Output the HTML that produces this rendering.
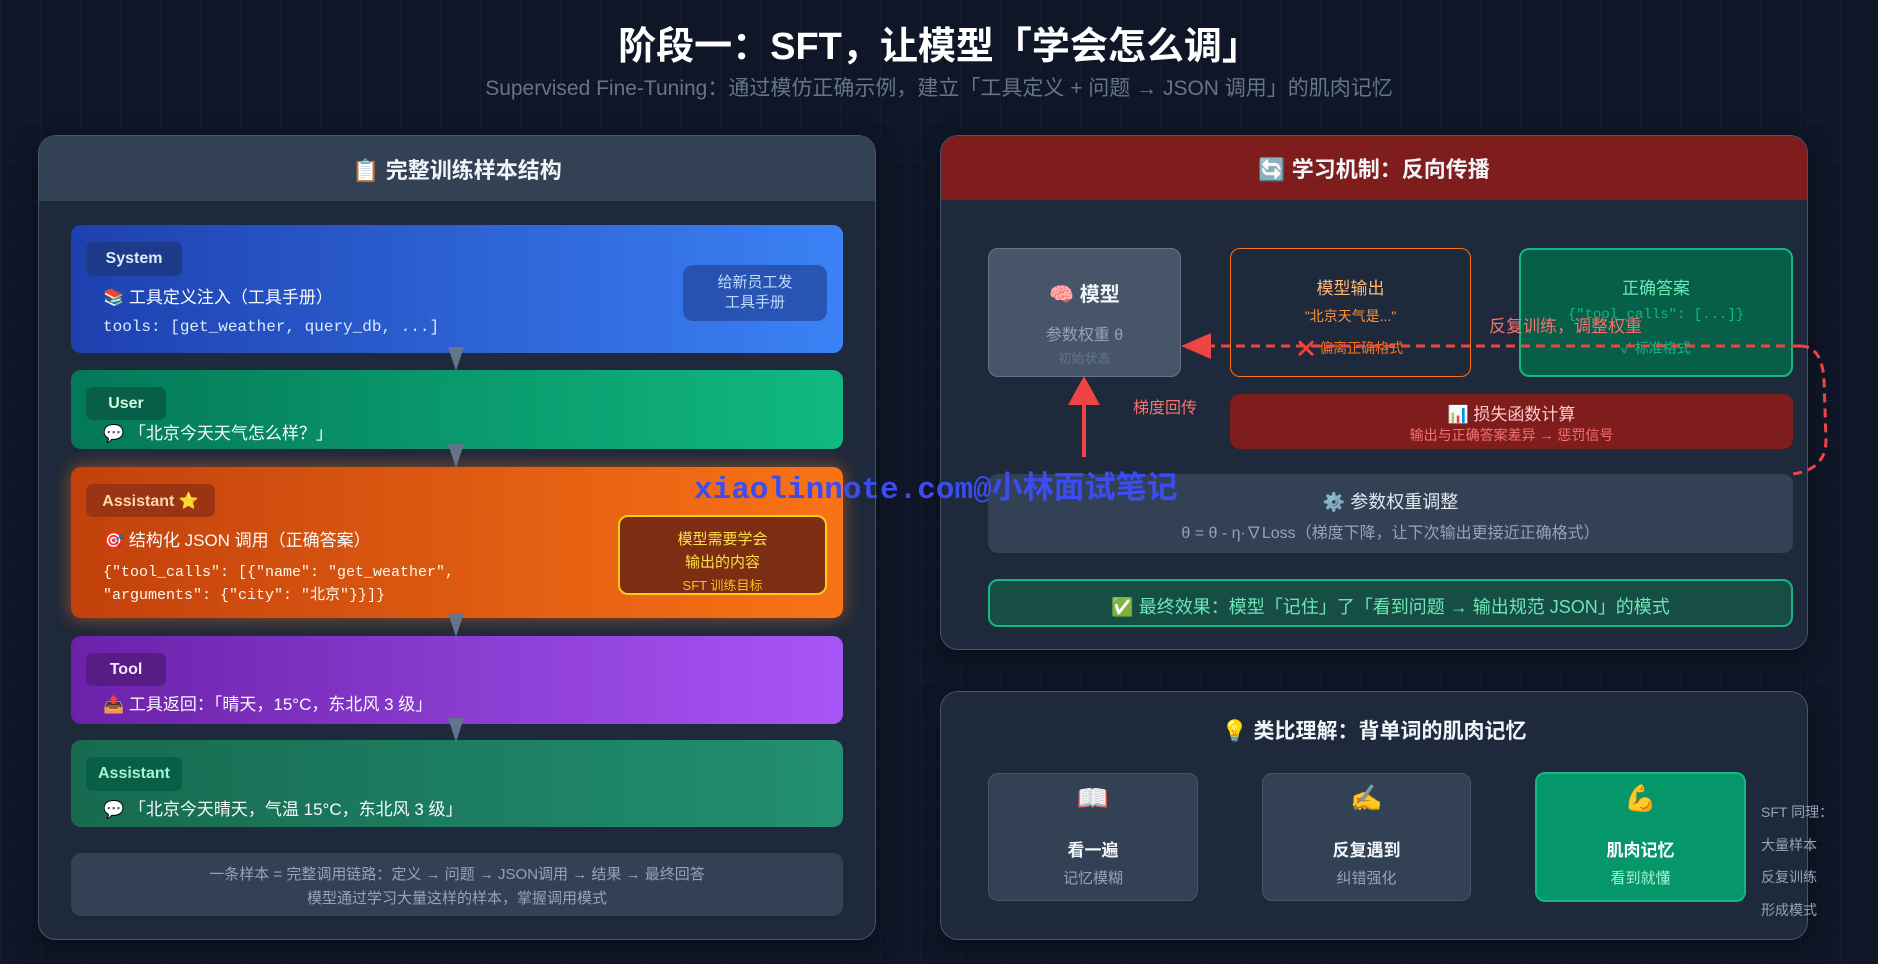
<!DOCTYPE html>
<html><head><meta charset="utf-8"><style>
*{margin:0;padding:0;box-sizing:border-box}
body{width:1878px;height:964px;overflow:hidden;position:relative;font-family:"Liberation Sans","Noto Sans CJK SC",sans-serif;
background-color:#0f1627;background-image:linear-gradient(rgba(255,255,255,0.025) 1px,transparent 1px),linear-gradient(90deg,rgba(255,255,255,0.025) 1px,transparent 1px);background-size:40px 40px}
.a{position:absolute}
.c{text-align:center}
.mono{font-family:"Liberation Mono","Noto Sans CJK SC",monospace}
.panel{position:absolute;background:#1e293b;border:1.5px solid #475569;border-radius:18px;overflow:hidden;box-shadow:0 8px 24px rgba(0,0,0,.4)}
.hdr{position:absolute;left:0;right:0;top:0;height:64px;display:flex;align-items:center;justify-content:center;font-size:22px;font-weight:bold;color:#f1f5f9}
.blk{position:absolute;left:71px;width:772px;border-radius:10px}
.badge{position:absolute;border-radius:7px;font-size:16px;font-weight:bold;display:flex;align-items:center;justify-content:center}
.line{position:absolute;font-size:17px;color:#f8fafc;white-space:nowrap}
.tri{position:absolute;width:0;height:0;border-left:8px solid transparent;border-right:8px solid transparent;border-top:24px solid #64748b}
.box{position:absolute;border-radius:10px}
.t{position:absolute;left:0;right:0;text-align:center;white-space:nowrap}
</style></head><body>

<div class="a c" style="left:0;width:1878px;top:15px;font-size:38px;font-weight:bold;color:#fff">阶段一：SFT，让模型「学会怎么调」</div>
<div class="a c" style="left:0;width:1878px;top:72px;font-size:21px;color:#64748b">Supervised Fine-Tuning：通过模仿正确示例，建立「工具定义 + 问题 → JSON 调用」的肌肉记忆</div>

<!-- Left panel -->
<div class="panel" style="left:38px;top:135px;width:838px;height:805px">
  <div class="hdr" style="background:#334155;height:65px">📋 完整训练样本结构</div>
</div>

<div class="blk" style="top:225px;height:128px;background:linear-gradient(90deg,#1e40af,#3b82f6)"></div>
<div class="badge" style="left:86px;top:242px;width:96px;height:34px;background:#1e3a8a;color:#dbeafe">System</div>
<div class="line" style="left:103px;top:283px">📚 工具定义注入（工具手册）</div>
<div class="line mono" style="left:103px;top:318px;font-size:16px;color:#dbeafe">tools: [get_weather, query_db, ...]</div>
<div class="box" style="left:683px;top:265px;width:144px;height:56px;background:rgba(30,58,138,0.6)"></div>
<div class="a c" style="left:683px;top:273px;width:144px;font-size:15px;line-height:20px;color:#bfdbfe">给新员工发<br>工具手册</div>

<div class="blk" style="top:370px;height:79px;background:linear-gradient(90deg,#047857,#10b981)"></div>
<div class="badge" style="left:86px;top:387px;width:80px;height:33px;background:#065f46;color:#d1fae5">User</div>
<div class="line" style="left:103px;top:419px">💬 「北京今天天气怎么样？」</div>

<div class="blk" style="top:467px;height:151px;background:linear-gradient(90deg,#c2410c,#f97316);box-shadow:0 0 18px rgba(249,115,22,.55)"></div>
<div class="badge" style="left:86px;top:484px;width:129px;height:33px;background:#9a3412;color:#fed7aa">Assistant ⭐</div>
<div class="line" style="left:103px;top:526px">🎯 结构化 JSON 调用（正确答案）</div>
<div class="line mono" style="left:103px;top:561px;font-size:15px;color:#fff7ed;line-height:23px">{"tool_calls": [{"name": "get_weather",<br>"arguments": {"city": "北京"}}]}</div>
<div class="box" style="left:618px;top:515px;width:209px;height:80px;background:#7c2d12;border:2px solid #facc15"></div>
<div class="a c" style="left:618px;top:528px;width:209px;font-size:15px;line-height:23px;color:#fde047">模型需要学会<br>输出的内容</div>
<div class="a c" style="left:618px;top:575px;width:209px;font-size:13px;color:#fbbf24">SFT 训练目标</div>

<div class="blk" style="top:636px;height:88px;background:linear-gradient(90deg,#6b21a8,#a855f7)"></div>
<div class="badge" style="left:86px;top:653px;width:80px;height:33px;background:#581c87;color:#f3e8ff">Tool</div>
<div class="line" style="left:103px;top:690px">📤 工具返回：「晴天，15°C，东北风 3 级」</div>

<div class="blk" style="top:740px;height:87px;background:linear-gradient(90deg,#176a50,#229070)"></div>
<div class="badge" style="left:86px;top:757px;width:96px;height:34px;background:#065f46;color:#a7f3d0">Assistant</div>
<div class="line" style="left:103px;top:795px">💬 「北京今天晴天，气温 15°C，东北风 3 级」</div>

<div class="tri" style="left:448px;top:347px"></div>
<div class="tri" style="left:448px;top:444px"></div>
<div class="tri" style="left:448px;top:613px"></div>
<div class="tri" style="left:448px;top:718px"></div>

<div class="box" style="left:71px;top:853px;width:772px;height:63px;background:#334155"></div>
<div class="a c" style="left:71px;top:863px;width:772px;font-size:15px;line-height:24px;color:#94a3b8">一条样本 = 完整调用链路：定义 → 问题 → JSON调用 → 结果 → 最终回答<br>模型通过学习大量这样的样本，掌握调用模式</div>

<!-- Right top panel -->
<div class="panel" style="left:940px;top:135px;width:868px;height:515px">
  <div class="hdr" style="background:#7f1d1d">🔄 学习机制：反向传播</div>
</div>

<div class="box" style="left:988px;top:248px;width:193px;height:129px;background:#475569;border:1.5px solid #64748b"></div>
<div class="t" style="left:988px;width:193px;top:278px;font-size:20px;font-weight:bold;color:#f1f5f9">🧠 模型</div>
<div class="t" style="left:988px;width:193px;top:321px;font-size:16px;color:#94a3b8">参数权重 θ</div>
<div class="t" style="left:988px;width:193px;top:348px;font-size:13px;color:#64748b">初始状态</div>

<div class="box" style="left:1230px;top:248px;width:241px;height:129px;border:1.5px solid #f97316"></div>
<div class="t" style="left:1230px;width:241px;top:274px;font-size:17px;color:#fdba74">模型输出</div>
<div class="t" style="left:1230px;width:241px;top:306px;font-size:14px;color:#fb923c">"北京天气是..."</div>
<div class="t" style="left:1230px;width:241px;top:338px;font-size:14px;color:#f97316">❌ 偏离正确格式</div>

<div class="box" style="left:1519px;top:248px;width:274px;height:129px;background:#065f46;border:2.5px solid #10b981"></div>
<div class="t" style="left:1519px;width:274px;top:274px;font-size:17px;color:#6ee7b7">正确答案</div>
<div class="t mono" style="left:1519px;width:274px;top:307px;font-size:14px;color:#10b981">{"tool_calls": [...]}</div>
<div class="t" style="left:1519px;width:274px;top:338px;font-size:14px;color:#10b981">✓ 标准格式</div>

<div class="box" style="left:1230px;top:394px;width:563px;height:55px;background:#7f1d1d"></div>
<div class="t" style="left:1230px;width:563px;top:400px;font-size:17px;color:#fecaca">📊 损失函数计算</div>
<div class="t" style="left:1230px;width:563px;top:425px;font-size:14px;color:#f87171">输出与正确答案差异 → 惩罚信号</div>

<div class="box" style="left:988px;top:474px;width:805px;height:79px;background:#334155"></div>
<div class="t" style="left:988px;width:805px;top:488px;font-size:18px;color:#e2e8f0">⚙️ 参数权重调整</div>
<div class="t" style="left:988px;width:805px;top:519px;font-size:16px;color:#94a3b8">θ = θ - η·∇Loss（梯度下降，让下次输出更接近正确格式）</div>

<div class="box" style="left:988px;top:579px;width:805px;height:48px;background:#164e45;border:2px solid #10b981"></div>
<div class="t" style="left:988px;width:805px;top:593px;font-size:18px;color:#6ee7b7">✅ 最终效果：模型「记住」了「看到问题 → 输出规范 JSON」的模式</div>

<svg class="a" style="left:0;top:0" width="1878" height="964">
  <path d="M1800 346 Q1822 346 1824 380 L1826 440 Q1826 470 1792 474" fill="none" stroke="#ef4444" stroke-width="3" stroke-dasharray="9,6"/>
  <line x1="1800" y1="346" x2="1208" y2="346" stroke="#ef4444" stroke-width="3" stroke-dasharray="9,6"/>
  <polygon points="1181,346 1211,333 1211,359" fill="#ef4444"/>
  <line x1="1084" y1="457" x2="1084" y2="400" stroke="#ef4444" stroke-width="4"/>
  <polygon points="1084,376 1068,405 1100,405" fill="#ef4444"/>
  <polygon points="1216,826 1249,836 1216,846" fill="#64748b"/>
  <polygon points="1491,826 1524,836 1491,846" fill="#64748b"/>
</svg>
<div class="a" style="left:1489px;top:312px;font-size:17px;color:#f87171;white-space:nowrap">反复训练，调整权重</div>
<div class="a" style="left:1133px;top:394px;font-size:16px;color:#f87171">梯度回传</div>

<!-- Right bottom panel -->
<div class="panel" style="left:940px;top:691px;width:868px;height:249px"></div>
<div class="t" style="left:940px;width:868px;top:715px;font-size:21px;font-weight:bold;color:#f1f5f9">💡 类比理解：背单词的肌肉记忆</div>

<div class="box" style="left:988px;top:773px;width:210px;height:128px;background:#334155;border:1.5px solid #475569"></div>
<div class="t" style="left:988px;width:210px;top:783px;font-size:26px">📖</div>
<div class="t" style="left:988px;width:210px;top:836px;font-size:17px;font-weight:bold;color:#f1f5f9">看一遍</div>
<div class="t" style="left:988px;width:210px;top:867px;font-size:15px;color:#94a3b8">记忆模糊</div>

<div class="box" style="left:1262px;top:773px;width:209px;height:128px;background:#334155;border:1.5px solid #475569"></div>
<div class="t" style="left:1262px;width:209px;top:783px;font-size:26px">✍️</div>
<div class="t" style="left:1262px;width:209px;top:836px;font-size:17px;font-weight:bold;color:#f1f5f9">反复遇到</div>
<div class="t" style="left:1262px;width:209px;top:867px;font-size:15px;color:#94a3b8">纠错强化</div>

<div class="box" style="left:1535px;top:772px;width:211px;height:130px;background:#059669;border:2.5px solid #10b981"></div>
<div class="t" style="left:1535px;width:211px;top:783px;font-size:26px">💪</div>
<div class="t" style="left:1535px;width:211px;top:836px;font-size:17px;font-weight:bold;color:#fff">肌肉记忆</div>
<div class="t" style="left:1535px;width:211px;top:867px;font-size:15px;color:#a7f3d0">看到就懂</div>

<div class="a" style="left:1761px;top:796px;font-size:14px;line-height:32.5px;color:#94a3b8;white-space:nowrap">SFT 同理：<br>大量样本<br>反复训练<br>形成模式</div>

<div class="a mono" style="left:694px;top:462px;font-size:31px;font-weight:bold;color:#3b4df2;white-space:nowrap">xiaolinnote.com@小林面试笔记</div>
</body></html>
